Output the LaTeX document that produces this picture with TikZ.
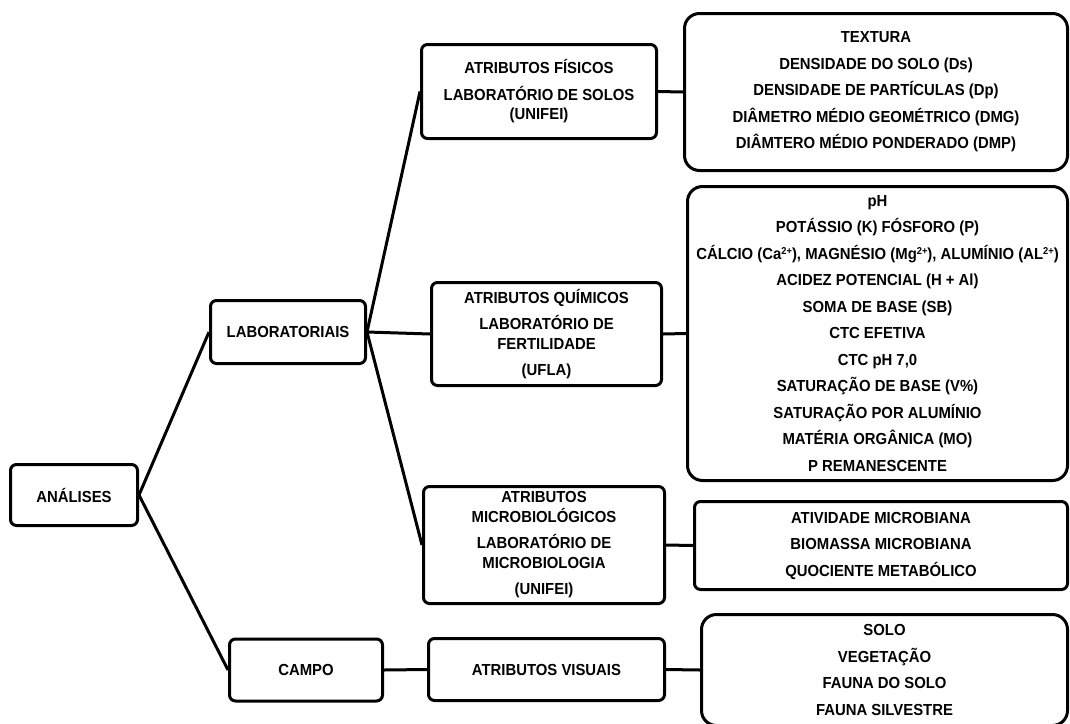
\documentclass[tikz,border=0pt]{standalone}
\usepackage{fontspec}
\setmainfont{Liberation Sans}[FakeStretch=0.93]
\usepackage{xcolor}

\newcommand{\carga}{\raisebox{0.55ex}{\fontsize{10}{10}\selectfont 2+}}

\begin{document}
\begin{tikzpicture}[x=1pt,y=-1pt,
      caixa/.style={draw=black, line width=3pt, rounded corners=6pt, align=center, inner sep=0pt, font=\fontsize{16}{19.5}\selectfont\bfseries},
      lista/.style={caixa, rounded corners=15pt, font=\fontsize{16}{26.5}\selectfont\bfseries},
      liga/.style={black, line width=3pt}]

      \useasboundingbox (0,0) rectangle (1070,723);

      \node[caixa, minimum width=127pt, minimum height=61pt] (analises) at (74,495) {ANÁLISES};
      \node[caixa, minimum width=155pt, minimum height=63pt] (lab) at (288,332) {LABORATORIAIS};
      \node[caixa, minimum width=153pt, minimum height=62pt] (campo) at (306,670) {CAMPO};

      \node[caixa, minimum width=235pt, minimum height=94pt] (fisicos) at (539,91.5) {ATRIBUTOS FÍSICOS\\[7pt]LABORATÓRIO DE SOLOS\\(UNIFEI)};
      \node[caixa, minimum width=230pt, minimum height=103pt] (quimicos) at (546.5,334) {ATRIBUTOS QUÍMICOS\\[7pt]LABORATÓRIO DE\\FERTILIDADE\\[7pt](UFLA)};
      \node[caixa, minimum width=241pt, minimum height=117pt] (micro) at (544,545) {ATRIBUTOS\\MICROBIOLÓGICOS\\[7pt]LABORATÓRIO DE\\MICROBIOLOGIA\\[7pt](UNIFEI)};
      \node[caixa, minimum width=236pt, minimum height=62pt] (visuais) at (546.5,669.5) {ATRIBUTOS VISUAIS};

      \node[lista, minimum width=383pt, minimum height=157pt] (listafis) at (876,92) {TEXTURA\\DENSIDADE DO SOLO (Ds)\\DENSIDADE DE PARTÍCULAS (Dp)\\DIÂMETRO MÉDIO GEOMÉTRICO (DMG)\\DIÂMTERO MÉDIO PONDERADO (DMP)};
      \node[lista, minimum width=380pt, minimum height=294pt] (listaqui) at (877.5,333.5) {pH\\POTÁSSIO (K) FÓSFORO (P)\\CÁLCIO (Ca\carga), MAGNÉSIO (Mg\carga), ALUMÍNIO (AL\carga)\\ACIDEZ POTENCIAL (H + Al)\\SOMA DE BASE (SB)\\CTC EFETIVA\\CTC pH 7,0\\SATURAÇÃO DE BASE (V\%)\\SATURAÇÃO POR ALUMÍNIO\\MATÉRIA ORGÂNICA (MO)\\P REMANESCENTE};
      \node[lista, rounded corners=6pt, minimum width=373pt, minimum height=88pt] (listamic) at (881,545.5) {ATIVIDADE MICROBIANA\\BIOMASSA MICROBIANA\\QUOCIENTE METABÓLICO};
      \node[lista, minimum width=366pt, minimum height=111pt] (listavis) at (884.5,670) {SOLO\\VEGETAÇÃO\\FAUNA DO SOLO\\FAUNA SILVESTRE};

      \draw[liga] (analises.east) -- (lab.west);
      \draw[liga] (analises.east) -- (campo.west);
      \draw[liga] (lab.east) -- (fisicos.west);
      \draw[liga] (lab.east) -- (quimicos.west);
      \draw[liga] (lab.east) -- (micro.west);
      \draw[liga] (campo.east) -- (visuais.west);
      \draw[liga] (fisicos.east) -- (listafis.west);
      \draw[liga] (quimicos.east) -- (listaqui.west);
      \draw[liga] (micro.east) -- (listamic.west);
      \draw[liga] (visuais.east) -- (listavis.west);

    \end{tikzpicture}
\end{document}
